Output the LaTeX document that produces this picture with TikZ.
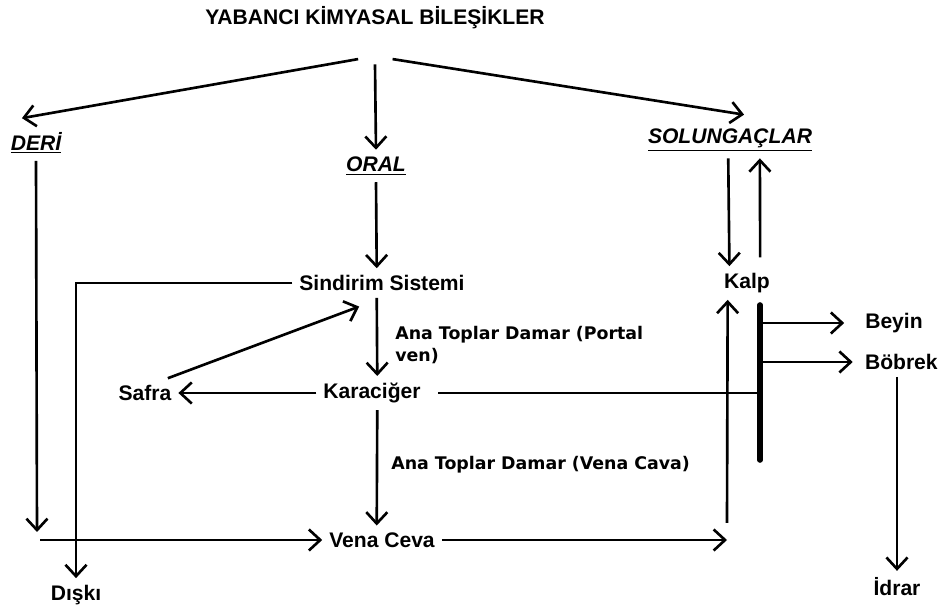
\documentclass[tikz,border=0pt]{standalone}
\usepackage{fontspec}
\setmainfont{Liberation Sans}
\newfontfamily\damarfont{DejaVu Sans}
\usetikzlibrary{arrows.meta,calc,positioning}

\begin{document}
\begin{tikzpicture}[x=0.02cm,y=-0.02cm,
    >={Straight Barb[length=6.5pt,width=12pt]},
    line width=1.5pt,
    organ/.style={font=\fontsize{12}{14}\selectfont\bfseries,inner sep=1pt,outer sep=3pt},
    yol/.style={font=\fontsize{12}{14}\selectfont\bfseries\itshape,inner sep=1pt,outer sep=3pt},
    damar/.style={font=\damarfont\fontsize{9.9}{12.5}\selectfont\bfseries,align=left,inner sep=0pt}]
    \useasboundingbox (0,0) rectangle (941,607);

    \node[organ] (title) at (375,18) {YABANCI KİMYASAL BİLEŞİKLER};
    \node[yol] (deri) at (36,143) {\underline{DERİ}};
    \node[yol] (oral) at (376,166) {\underline{ORAL}};
    \node[yol] (solung) at (730,140) {\underline{SOLUNGAÇLAR}};

    \node[organ] (sindirim) at (382,283) {Sindirim Sistemi};
    \node[organ] (karaciger) at (372,393) {Karaciğer};
    \node[organ] (safra) at (145,393) {Safra};
    \node[organ] (vena) at (382,540) {Vena Ceva};
    \node[organ] (kalp) at (747,283) {Kalp};
    \node[organ] (beyin) at (894,323) {Beyin};
    \node[organ,anchor=west] (bobrek) at (858,362) {Böbrek};
    \node[organ] (idrar) at (897,587) {İdrar};
    \node[organ] (diski) at (76,595) {Dışkı};

    \node[damar,anchor=north west] (portal) at (394,325) {Ana Toplar Damar (Portal\\ven)};
    \node[damar,anchor=west] (cava) at (390,465) {Ana Toplar Damar (Vena Cava)};

    % giris yollari
    \draw[->] ([xshift=-9.6pt,yshift=-13pt]title.south) -- ([xshift=-8pt,yshift=4pt]deri.north);
    \draw[->] ([yshift=-16pt]title.south) -- (oral.north);
    \draw[->] ([xshift=10pt,yshift=-13pt]title.south) -- ([xshift=8pt,yshift=4pt]solung.north);

    \coordinate (dend) at (37,532);
    \coordinate (hstart) at (40,540);
    \draw[->] (deri.south) -- (dend);
    \draw[->] (vena.west -| hstart) -- (vena.west);

    \draw[->] (oral.south) -- ([xshift=-3pt]sindirim.north);
    \draw[->] (sindirim.west) -| (diski.north);
    \draw[->] ([xshift=-3pt]sindirim.south) -- ([xshift=3pt]karaciger.north);
    \draw[->] (karaciger.west) -- (safra.east);
    \draw[->] ([xshift=-6pt]safra.north east) -- ([xshift=-13pt,yshift=-5pt]sindirim.south);
    \draw[->] ([xshift=3pt]karaciger.south) -- ([xshift=-3pt]vena.north);

    % kalp
    \coordinate (kup) at (727,523);
    \draw[->] (vena.east) -- (vena.east -| kup);
    \draw[->] (kup) -- ([xshift=-11pt]kalp.south);
    \draw[->] ([xshift=-1pt]solung.south) -- ([xshift=-10pt]kalp.north);
    \draw[->] ([xshift=7.5pt,yshift=5pt]kalp.north) -- ([xshift=17pt]solung.south);

    \coordinate (bartop) at (760,305);
    \coordinate (barbot) at (760,460);
    \draw[line width=3.2pt,line cap=round] (bartop) -- (barbot);
    \draw ([xshift=6pt]karaciger.east) -- (bartop |- karaciger.east);
    \draw[->] (bartop |- beyin.west) -- ([xshift=-8pt]beyin.west);
    \draw[->] (bartop |- bobrek.west) -- ([xshift=-3pt]bobrek.west);
    \draw[->] (bobrek.south -| idrar.north) -- (idrar.north);
  \end{tikzpicture}
\end{document}
